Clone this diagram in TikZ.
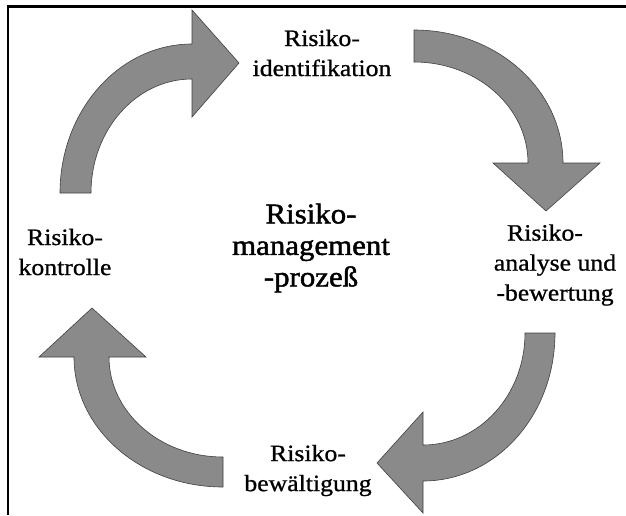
\documentclass[tikz,border=0pt]{standalone}
\usepackage{fontspec}
\setmainfont[FakeStretch=1.1,FakeBold=0.9]{Liberation Serif}
\newfontfamily\titlefont[FakeStretch=1.08,FakeBold=1.6]{Liberation Serif}
\begin{document}
\begin{tikzpicture}[x=1pt,y=-1pt,
  bigarrow/.style={fill={rgb,255:red,138;green,138;blue,138}, draw=black!75, line width=0.6pt, line join=miter},
  steplabel/.style={align=center, inner sep=0pt, font=\fontsize{23.4}{30}\selectfont},
  titlelabel/.style={align=center, inner sep=0pt, font=\titlefont\fontsize{28.6}{31.5}\selectfont},
  frameline/.style={line width=2.3pt}]
\useasboundingbox (0,0) rectangle (626,515);

% open frame: left and top edges only
\coordinate (fbl) at (7.7,515);
\coordinate (ftl) at (7.7,6.5);
\coordinate (ftr) at (626,6.5);
\draw[frameline] (fbl) -- (ftl) -- (ftr);

% curved arrow, upper left (control -> identification)
\draw[bigarrow] (60,193) .. controls (60,110.7) and (119.1,44) .. (192,44)
  -- (192,10) -- (239,63) -- (192,117) -- (192,79)
  .. controls (136.2,79) and (91,130) .. (91,193) -- cycle;

% curved arrow, upper right (identification -> analysis)
\draw[bigarrow] (414,30) .. controls (496.3,30) and (563,89.5) .. (563,163)
  -- (600,163) -- (546,211) -- (493,163) -- (528,163)
  .. controls (528,107.2) and (477,62) .. (414,62) -- cycle;

% curved arrow, lower right (analysis -> handling)
\draw[bigarrow] (555,333) .. controls (555,415.3) and (495.9,481) .. (423,481)
  -- (423,513) -- (377,463) -- (423,412) -- (423,445)
  .. controls (479.3,445) and (525,394.9) .. (525,333) -- cycle;

% curved arrow, lower left (handling -> control)
\draw[bigarrow] (223,487) .. controls (140.7,487) and (74,428.8) .. (74,357)
  -- (39,357) -- (92,308) -- (146,357) -- (109,357)
  .. controls (109,412.2) and (160,457) .. (223,457) -- cycle;

% labels
\node[titlelabel] (title) at (311,248) {Risiko-\\management\\-prozeß};
\node[steplabel] (ident) at (322,53) {Risiko-\\identifikation};
\node[steplabel] (analyse) at (555,265) {Risiko-\hspace*{20pt}\\analyse und\\-bewertung};
\node[steplabel] (handle) at (308,470.5) {Risiko-\\bewältigung};
\node[steplabel] (control) at (65,252) {Risiko-\\kontrolle};
\end{tikzpicture}
\end{document}
